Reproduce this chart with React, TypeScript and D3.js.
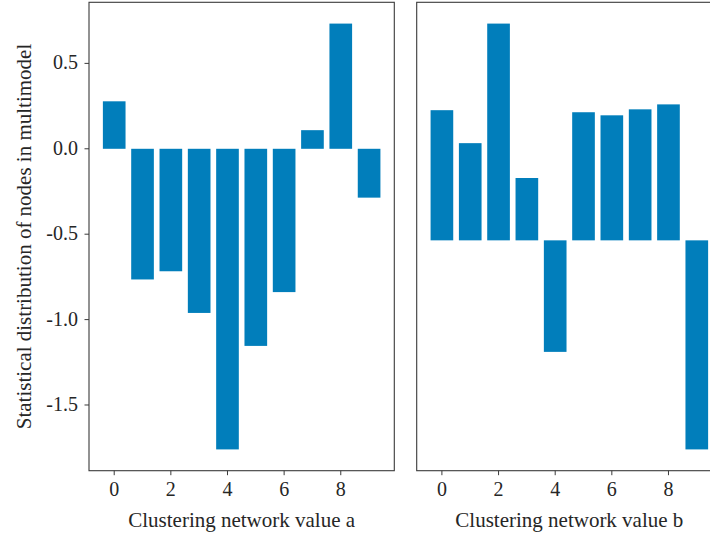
import React from "react";
import * as d3 from "d3";

const categories = [0, 1, 2, 3, 4, 5, 6, 7, 8, 9];
const valuesA = [0.278, -0.765, -0.717, -0.961, -1.76, -1.154, -0.839, 0.109, 0.733, -0.286];
const valuesB = [0.762, 0.569, 1.269, 0.365, -0.653, 0.75, 0.732, 0.767, 0.796, -1.224];
const xTicks = [0, 2, 4, 6, 8];
const yTicksA = [-1.5, -1.0, -0.5, 0.0, 0.5];
const yLabel = "Statistical distribution of nodes in multimodel";
const xLabelA = "Clustering network value a";
const xLabelB = "Clustering network value b";

const W = 710;
const H = 537;
const TOP = 2.3;
const BOTTOM = 470.7;
const BAR_COLOR = "#017ebb";
const AXIS_COLOR = "#3a3a3a";
const TEXT_COLOR = "#262626";
const FONT = "'Liberation Serif', 'DejaVu Serif', serif";
const FS = 20;
const LFS = 21;

function yScaleFor(vals: number[]) {
  const mn = Math.min(0, d3.min(vals)!);
  const mx = Math.max(0, d3.max(vals)!);
  const pad = (mx - mn) * 0.05;
  return d3.scaleLinear().domain([mn - pad, mx + pad]).range([BOTTOM, TOP]);
}

function xScaleFor(left: number, width: number) {
  const lo = -0.4, hi = 9.4;
  const pad = (hi - lo) * 0.05;
  return d3.scaleLinear().domain([lo - pad, hi + pad]).range([left, left + width]);
}

function Panel({ left, width, values, xLabel, showY }: { left: number; width: number; values: number[]; xLabel: string; showY: boolean }) {
  const x = xScaleFor(left, width);
  const y = yScaleFor(values);
  const bw = x(0.8) - x(0);
  const fmt = (v: number) => d3.format(".1f")(v).replace("−", "-");
  return (
    <g>
      {categories.map((c, i) => {
        const v = values[i];
        const y0 = y(0);
        const y1 = y(v);
        return (
          <rect key={c} x={x(c) - bw / 2} width={bw} y={Math.min(y0, y1)} height={Math.abs(y1 - y0)} fill={BAR_COLOR} />
        );
      })}
      <rect x={left} y={TOP} width={width} height={BOTTOM - TOP} fill="none" stroke={AXIS_COLOR} strokeWidth={1.1} />
      {xTicks.map((t) => (
        <g key={t}>
          <line x1={x(t)} x2={x(t)} y1={BOTTOM} y2={BOTTOM + 4.5} stroke={AXIS_COLOR} strokeWidth={1} />
          <text x={x(t)} y={BOTTOM + 25} textAnchor="middle" fontSize={FS} fontFamily={FONT} fill={TEXT_COLOR}>{t}</text>
        </g>
      ))}
      {showY && yTicksA.map((t) => (
        <g key={t}>
          <line x1={left - 4.5} x2={left} y1={y(t)} y2={y(t)} stroke={AXIS_COLOR} strokeWidth={1} />
          <text x={left - 11} y={y(t) + 6} textAnchor="end" fontSize={FS} fontFamily={FONT} fill={TEXT_COLOR}>{fmt(t)}</text>
        </g>
      ))}
      <text x={left + width / 2} y={527} textAnchor="middle" fontSize={LFS} fontFamily={FONT} fill={TEXT_COLOR}>{xLabel}</text>
    </g>
  );
}

export default function App() {
  const panelW = 305.3;
  return (
    <svg width={W} height={H} style={{ position: "absolute", left: 0, top: 0, background: "#fff" }}>
      <rect x={0} y={0} width={W} height={H} fill="#fff" />
      <Panel left={89} width={panelW} values={valuesA} xLabel={xLabelA} showY={true} />
      <Panel left={416.7} width={panelW} values={valuesB} xLabel={xLabelB} showY={false} />
      <text transform={`translate(31,${(TOP + BOTTOM) / 2}) rotate(-90)`} textAnchor="middle" fontSize={LFS} fontFamily={FONT} fill={TEXT_COLOR}>{yLabel}</text>
    </svg>
  );
}
